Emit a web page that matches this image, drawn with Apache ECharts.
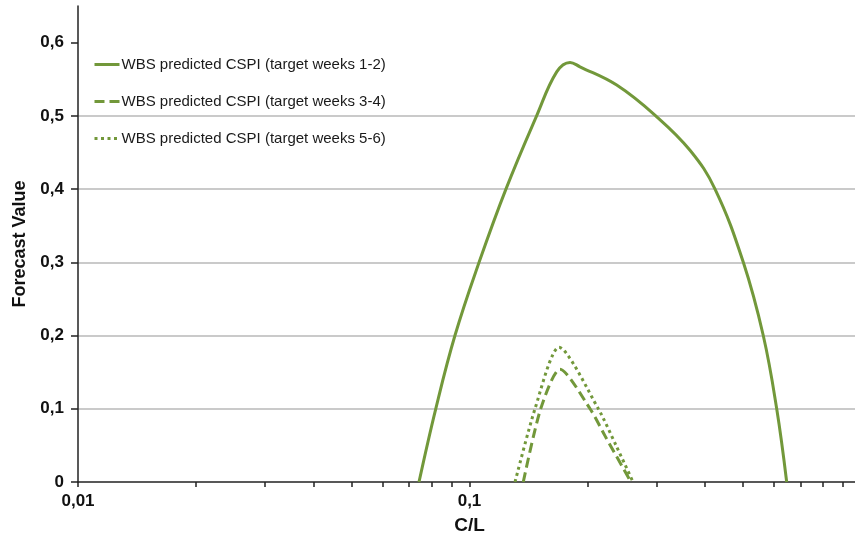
<!DOCTYPE html>
<html>
<head>
<meta charset="utf-8">
<script src="https://cdn.jsdelivr.net/npm/echarts@6/dist/echarts.min.js"></script>
<style>
html,body{margin:0;padding:0;background:#fff;}
#chart{width:855px;height:534px;}
</style>
</head>
<body>
<div id="chart"></div>
<script>
// ---- Data ----
const seriesNames = [
  'WBS predicted CSPI (target weeks 1-2)',
  'WBS predicted CSPI (target weeks 3-4)',
  'WBS predicted CSPI (target weeks 5-6)'
];
const solidX = [0.0743, 0.0820, 0.0918, 0.1058, 0.1239, 0.1484, 0.167, 0.1806, 0.1915, 0.2377, 0.2990, 0.3658, 0.4238, 0.5005, 0.5628, 0.6091, 0.6459];
const solidY = [0, 0.1, 0.2, 0.3, 0.4, 0.5, 0.560, 0.573, 0.567, 0.542, 0.5, 0.453, 0.4, 0.3, 0.2, 0.1, 0];
const dashX = [0.1372, 0.1520, 0.1703, 0.2032, 0.2219, 0.2585];
const dashY = [0, 0.1, 0.154, 0.1, 0.063, 0];
const dotX = [0.1307, 0.1470, 0.1693, 0.2133, 0.2367, 0.2616];
const dotY = [0, 0.1, 0.184, 0.1, 0.05, 0];

const xLabelValues = [0.01, 0.1];
const xTickValues = [0.01, 0.02, 0.03, 0.04, 0.05, 0.06, 0.07, 0.08, 0.09,
                     0.1, 0.2, 0.3, 0.4, 0.5, 0.6, 0.7, 0.8, 0.9];
const yTickValues = [0, 0.1, 0.2, 0.3, 0.4, 0.5, 0.6];

const xName = 'C/L';
const yName = 'Forecast Value';

// ---- Chart ----
const green = '#72983a';
const font = '"Liberation Sans", Arial, Helvetica, sans-serif';
const zip = (xs, ys) => xs.map((x, i) => [x, ys[i]]);
const fmt = v => String(+(+v).toPrecision(6)).replace('.', ',');

const chart = echarts.init(document.getElementById('chart'), null, {renderer: 'canvas'});
chart.setOption({
  animation: false,
  backgroundColor: '#ffffff',
  textStyle: {fontFamily: font},
  grid: {left: 78, right: -6, top: 6, bottom: 52, containLabel: false, outerBoundsMode: 'none'},
  legend: {
    orient: 'vertical',
    left: 88,
    top: 52,
    itemWidth: 25,
    itemHeight: 14,
    itemGap: 22,
    itemStyle: {opacity: 0},
    lineStyle: {width: 3},
    textStyle: {fontFamily: font, fontSize: 15, color: '#1a1a1a', padding: [0, 0, 0, -3]},
    data: seriesNames
  },
  xAxis: {
    type: 'log',
    logBase: 10,
    min: 0.01,
    max: 1,
    name: xName,
    nameLocation: 'middle',
    nameGap: 34,
    nameTextStyle: {fontFamily: font, fontSize: 19, fontWeight: 'bold', color: '#111'},
    axisLine: {show: true, onZero: false, lineStyle: {color: '#222', width: 1.5}},
    axisTick: {show: true, inside: false, length: 5, lineStyle: {color: '#222', width: 1.5}, customValues: xTickValues},
    minorTick: {show: false},
    axisLabel: {fontFamily: font, fontSize: 17, fontWeight: 'bold', color: '#111', margin: 11, formatter: fmt, customValues: xLabelValues},
    splitLine: {show: false}
  },
  yAxis: {
    type: 'value',
    min: 0,
    max: 0.65,
    interval: 0.1,
    name: yName,
    nameLocation: 'middle',
    nameGap: 49,
    nameTextStyle: {fontFamily: font, fontSize: 18, fontWeight: 'bold', color: '#111'},
    axisLine: {show: true, lineStyle: {color: '#222', width: 1.5}},
    axisTick: {show: true, inside: false, length: 7, lineStyle: {color: '#222', width: 1.5}, customValues: yTickValues},
    axisLabel: {fontFamily: font, fontSize: 17, fontWeight: 'bold', color: '#111', margin: 14, formatter: fmt, customValues: yTickValues},
    splitLine: {show: true, showMinLine: false, showMaxLine: false, lineStyle: {color: '#b8b8b8', width: 1.5}}
  },
  series: [
    {
      name: seriesNames[0], type: 'line', data: zip(solidX, solidY),
      symbol: 'none', smooth: 0.4, clip: false,
      lineStyle: {color: green, width: 3}, itemStyle: {color: green}
    },
    {
      name: seriesNames[1], type: 'line', data: zip(dashX, dashY),
      symbol: 'none', smooth: 0.25, clip: false,
      lineStyle: {color: green, width: 3, type: [10, 5]}, itemStyle: {color: green}
    },
    {
      name: seriesNames[2], type: 'line', data: zip(dotX, dotY),
      symbol: 'none', smooth: 0.25, clip: false,
      lineStyle: {color: green, width: 3, type: [3, 3.5]}, itemStyle: {color: green}
    }
  ]
});
</script>
</body>
</html>
